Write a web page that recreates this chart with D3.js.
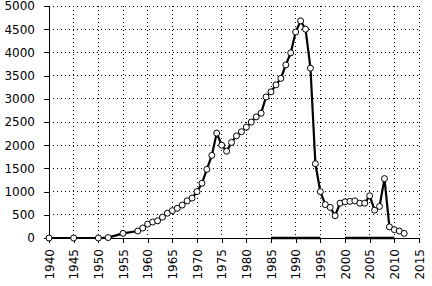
<!DOCTYPE html>
<meta charset="utf-8">
<style>
  body { margin: 0; background: #fff; }
  .axis path, .axis line { fill: none; stroke: #000; shape-rendering: crispEdges; }
  .axis text { font-family: "DejaVu Sans", sans-serif; font-size: 12px; fill: #000; }
  .grid line { stroke: #000; stroke-dasharray: 1,3; shape-rendering: crispEdges; }
</style>
<div class="chart"></div>
<script src="https://cdn.jsdelivr.net/npm/d3@7"></script>
<script>
  // main series
  var years = [1940,1945,1950,1952,1955,1958,1959,1960,1961,1962,1963,1964,1965,1966,1967,1968,1969,
               1970,1971,1972,1973,1974,1975,1976,1977,1978,1979,1980,1981,1982,1983,1984,1985,1986,
               1987,1988,1989,1990,1991,1992,1993,1994,1995,1996,1997,1998,1999,2000,2001,2002,2003,
               2004,2005,2006,2007,2008,2009,2010,2011,2012];
  var values = [0,0,0,10,100,150,215,300,345,370,450,535,590,640,710,800,860,
                1000,1180,1480,1780,2260,2000,1870,2060,2200,2290,2390,2500,2610,2690,3040,3150,3300,
                3440,3730,3990,4440,4680,4500,3660,1600,1000,720,660,480,750,780,790,800,750,
                750,910,600,680,1280,240,180,150,100];

  // second series lying on the axis (null = gap)
  var years2 = [1985,1990,1995,1996,2000,2005,2010];
  var values2 = [0,0,0,null,0,0,0];

  var yTicks = [0,500,1000,1500,2000,2500,3000,3500,4000,4500,5000];
  var xTicks = [1940,1945,1950,1955,1960,1965,1970,1975,1980,1985,1990,1995,2000,2005,2010,2015];

  var W = 432, H = 286,
      margin = {top: 6, right: 13, bottom: 48, left: 49};
  var width = W - margin.left - margin.right,
      height = H - margin.top - margin.bottom;

  var x = d3.scaleLinear().domain([1940, 2015]).range([0, width]);
  var y = d3.scaleLinear().domain([0, 5000]).range([height, 0]);

  var svg = d3.select(".chart").append("svg")
      .attr("width", W).attr("height", H)
    .append("g")
      .attr("transform", "translate(" + margin.left + "," + margin.top + ")");

  // dotted grid
  var grid = svg.append("g").attr("class", "grid");
  grid.selectAll(".h").data(yTicks.slice(1)).enter().append("line")
      .attr("x1", 0).attr("x2", width)
      .attr("y1", function(d) { return y(d); }).attr("y2", function(d) { return y(d); });
  grid.selectAll(".v").data(xTicks.slice(1)).enter().append("line")
      .attr("y1", 0).attr("y2", height)
      .attr("x1", function(d) { return x(d); }).attr("x2", function(d) { return x(d); });

  svg.append("g").attr("class", "y axis")
      .call(d3.axisLeft(y).tickValues(yTicks).tickSize(5).tickPadding(9).tickFormat(d3.format("d")))
      .select(".domain").attr("d", "M0," + y(0) + "V" + y(5000));

  var xa = svg.append("g").attr("class", "x axis")
      .attr("transform", "translate(0," + height + ")")
      .call(d3.axisBottom(x).tickValues(xTicks).tickSize(5).tickFormat(d3.format("d")));
  xa.select(".domain").attr("d", "M0,0H" + width);
  xa.selectAll("text")
      .attr("transform", "rotate(-90)")
      .attr("x", -11).attr("y", 0).attr("dy", "0.35em")
      .style("text-anchor", "end");

  var pts = years.map(function(d, i) { return {year: d, value: values[i]}; });
  var pts2 = years2.map(function(d, i) { return {year: d, value: values2[i]}; });

  var line = d3.line()
      .defined(function(d) { return d.value !== null; })
      .x(function(d) { return x(d.year); })
      .y(function(d) { return y(d.value); });

  svg.append("path").datum(pts2)
      .attr("fill", "none").attr("stroke", "#000").attr("stroke-width", 2.5)
      .attr("d", line);

  svg.append("path").datum(pts)
      .attr("fill", "none").attr("stroke", "#000").attr("stroke-width", 2.2)
      .attr("d", line);

  svg.selectAll(".dot").data(pts).enter().append("circle")
      .attr("class", "dot")
      .attr("cx", function(d) { return x(d.year); })
      .attr("cy", function(d) { return y(d.value); })
      .attr("r", 3)
      .attr("fill", "#fff").attr("stroke", "#000").attr("stroke-width", 1);
</script>
